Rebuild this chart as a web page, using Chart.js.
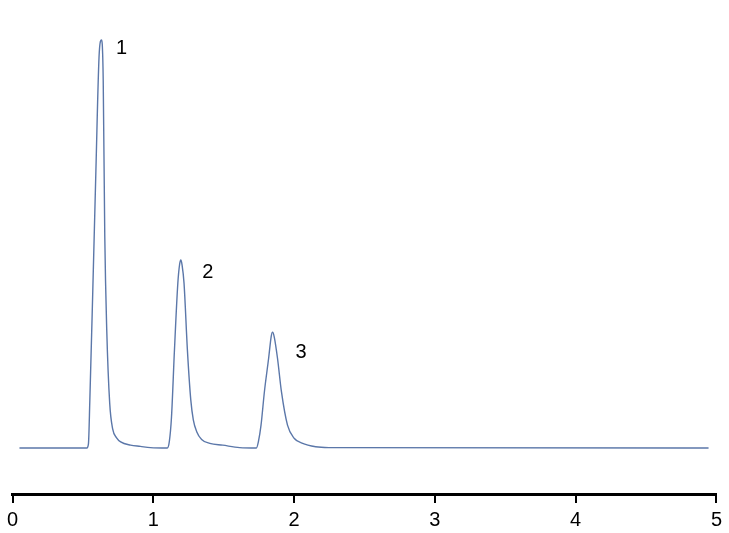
<!DOCTYPE html>
<html>
<head>
<meta charset="utf-8">
<script src="https://cdn.jsdelivr.net/npm/chart.js@4/dist/chart.umd.min.js"></script>
<style>
  html, body { margin: 0; padding: 0; background: #fff; }
  #wrap { width: 729px; height: 533px; }
</style>
</head>
<body>
<div id="wrap"><canvas id="chrom"></canvas></div>
<script>
// retention time (min) and detector response
const times = [
  0.049, 0.528, 0.539, 0.549, 0.570, 0.592, 0.616, 0.632, 0.637, 0.644,
  0.655, 0.669, 0.690, 0.711, 0.739, 0.768, 0.838, 0.908, 0.979, 1.099,
  1.114, 1.129, 1.150, 1.174, 1.187, 1.195, 1.204, 1.218, 1.242, 1.266,
  1.284, 1.308, 1.343, 1.401, 1.493, 1.613, 1.732, 1.746, 1.765, 1.789,
  1.819, 1.838, 1.847, 1.859, 1.882, 1.910, 1.953, 2.000, 2.056, 2.153,
  2.246, 4.944
];
const signal = [
  0, 0, 1, 11.8, 38.7, 68, 97, 100, 99, 90,
  52, 29, 11, 4.7, 2.5, 1.5, 0.7, 0.4, 0.1, 0,
  1.7, 7.6, 24, 40.4, 45.1, 46.1, 44.9, 40.4, 24, 11.8,
  6.9, 4.0, 2.1, 1.15, 0.7, 0.1, 0, 1.5, 5.6, 13.8,
  22, 27.5, 28.4, 27.2, 22, 13.8, 5.6, 2.4, 1.2, 0.3,
  0.1, 0
];

const peakNames = ['1', '2', '3'];
const peakLabelX = [0.775, 1.387, 2.049];
const peakLabelY = [98, 42.9, 23.5];

const xTicks = [0, 1, 2, 3, 4, 5];

const points = times.map((t, i) => ({ x: t, y: signal[i] }));

const peakLabelPlugin = {
  id: 'peakLabels',
  afterDatasetsDraw(chart){
    const ctx = chart.ctx;
    const xs = chart.scales.x, ys = chart.scales.y;
    ctx.save();
    ctx.fillStyle = '#000';
    ctx.font = '20px "Liberation Sans", Arial, sans-serif';
    ctx.textAlign = 'center';
    ctx.textBaseline = 'middle';
    peakNames.forEach((n, i) => {
      ctx.fillText(n, xs.getPixelForValue(peakLabelX[i]), ys.getPixelForValue(peakLabelY[i]));
    });
    ctx.restore();
  }
};

new Chart(document.getElementById('chrom'), {
  type: 'line',
  data: {
    datasets: [{
      data: points,
      borderColor: '#5b77a9',
      borderWidth: 1.4,
      pointRadius: 0,
      fill: false,
      cubicInterpolationMode: 'monotone'
    }]
  },
  options: {
    responsive: true,
    maintainAspectRatio: false,
    animation: false,
    layout: { padding: { left: 11, right: 6, top: 0, bottom: -4 } },
    plugins: { legend: { display: false }, tooltip: { enabled: false } },
    scales: {
      x: {
        type: 'linear',
        min: 0,
        max: 5,
        afterBuildTicks(scale){ scale.ticks = xTicks.map(v => ({ value: v })); },
        border: { display: true, color: '#000', width: 3 },
        grid: { drawOnChartArea: false, color: '#000', lineWidth: 2, tickLength: 9 },
        ticks: {
          color: '#000',
          padding: 7,
          maxRotation: 0,
          font: { family: '"Liberation Sans", Arial, sans-serif', size: 20, lineHeight: 1 }
        }
      },
      y: {
        display: false,
        min: -11.27,
        max: 109.8
      }
    }
  },
  plugins: [peakLabelPlugin]
});
</script>
</body>
</html>
